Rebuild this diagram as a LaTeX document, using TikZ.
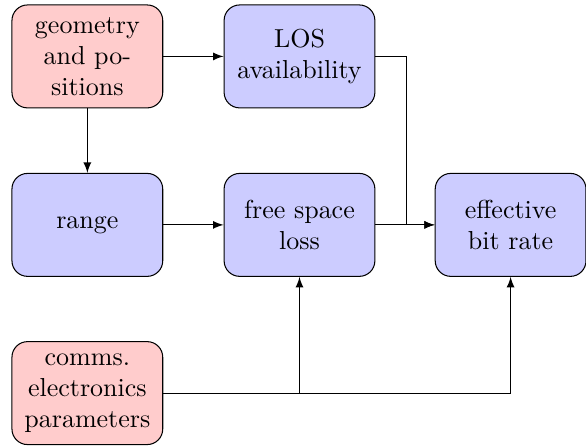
\documentclass[tikz,border=0pt]{standalone}
\usetikzlibrary{calc}

\tikzset{
  block/.style={draw, rounded corners=6pt, minimum width=58pt, minimum height=39.6pt,
    align=center, inner sep=2pt},
  inblock/.style={block, fill=red!20},
  calcblock/.style={block, fill=blue!20},
  link/.style={-latex}
}

\begin{document}
\begin{tikzpicture}[x=1pt, y=1pt]
	%%%%% START %%%%%
	\useasboundingbox (0, 0) rectangle (225.4, -171.5);

	\node[inblock] (geo) at (33.6, -21.7) {geometry\\ and po-\\ sitions};
	\node[calcblock] (los) at (115.2, -21.7) {LOS\\ availability};

	\node[calcblock] (range) at (33.6, -86.5) {range};
	\node[calcblock] (fsl) at (115.2, -86.5) {free space\\ loss};
	\node[calcblock] (ebr) at (196.4, -86.5) {effective\\ bit rate};

	\node[inblock] (comms) at (33.6, -151.2) {comms.\\ electronics\\ parameters};

	\coordinate (losbend) at (156.2, -21.7);

	\draw[link] (geo) -- (los);
	\draw[link] (geo) -- (range);
	\draw[link] (range) -- (fsl);
	\draw[link] (fsl) -- (ebr);
	\draw[link] (los.east) -- (losbend) |- (ebr.west);
	\draw[link] (comms.east) -| (fsl.south);
	\draw[link] (comms.east) -| (ebr.south);
	%%%%% END %%%%%
\end{tikzpicture}
\end{document}
